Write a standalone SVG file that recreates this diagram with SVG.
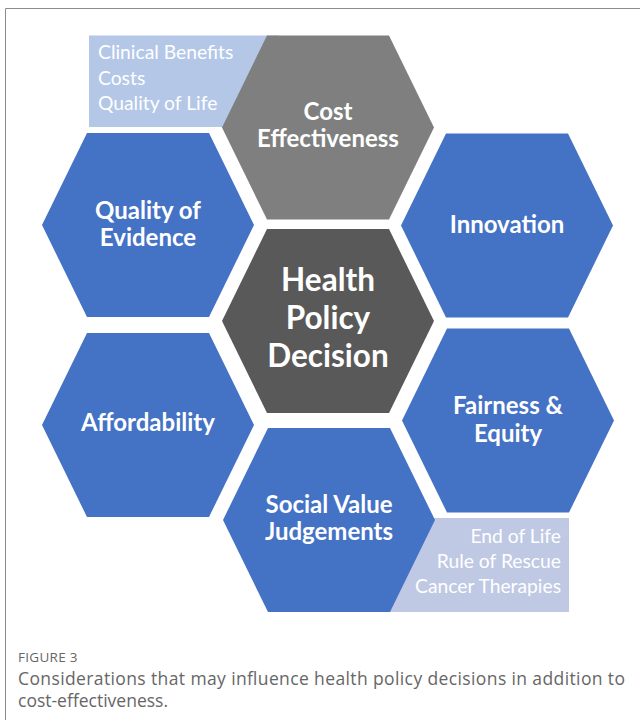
<svg xmlns="http://www.w3.org/2000/svg" width="640" height="720" viewBox="0 0 640 720">
  <style>
    .hex-blue { fill: #4472C4; }
    .hex-gray { fill: #7F7F7F; }
    .hex-dark { fill: #595959; }
    .label { font-family: Lato, "Liberation Sans", sans-serif; font-weight: bold; fill: #FFFFFF; text-anchor: middle; font-size: 24px; }
    .center-label { font-size: 31.5px; }
    .note { font-family: Lato, "Liberation Sans", sans-serif; fill: #FFFFFF; font-size: 19.3px; }
    .fig-tag { font-family: "Open Sans", "Liberation Sans", sans-serif; fill: #666666; font-size: 13.5px; }
    .caption { font-family: "Open Sans", "Liberation Sans", sans-serif; fill: #666666; font-size: 17.5px; }
  </style>
  <defs>
    <!-- flat-topped, slightly widened hexagon centred on the origin -->
    <polygon id="hex" points="-61,-92 61,-92 106,0 61,92 -61,92 -106,0"/>
  </defs>

  <rect width="640" height="720" fill="#FFFFFF"/>
  <!-- figure frame (open on the right and bottom) -->
  <path d="M640,8.5 H5.5 V720" fill="none" stroke="#8C8C8C" stroke-width="1"/>

  <!-- side notes sit behind the hexagons -->
  <g id="note-cost">
    <rect x="89" y="35.5" width="190" height="91.5" fill="#B4C7E7"/>
    <text class="note" x="98" y="59">Clinical Benefits</text>
    <text class="note" x="98" y="85">Costs</text>
    <text class="note" x="98" y="110">Quality of Life</text>
  </g>
  <g id="note-social">
    <rect x="380" y="518" width="189" height="94" fill="#BFC9E4"/>
    <text class="note" x="561" y="543" text-anchor="end">End of Life</text>
    <text class="note" x="561" y="568" text-anchor="end">Rule of Rescue</text>
    <text class="note" x="561" y="593" text-anchor="end">Cancer Therapies</text>
  </g>

  <g id="cost-effectiveness">
    <use href="#hex" x="328" y="127.5" class="hex-gray"/>
    <text class="label" x="328" y="120">Cost</text>
    <text class="label" x="328" y="147">Effectiveness</text>
  </g>
  <g id="quality-of-evidence">
    <use href="#hex" x="148" y="225" class="hex-blue"/>
    <text class="label" x="148" y="219">Quality of</text>
    <text class="label" x="148" y="246">Evidence</text>
  </g>
  <g id="innovation">
    <use href="#hex" x="507" y="225.5" class="hex-blue"/>
    <text class="label" x="507" y="233">Innovation</text>
  </g>
  <g id="health-policy-decision">
    <use href="#hex" x="328" y="321" class="hex-dark"/>
    <text class="label center-label" x="328" y="291">Health</text>
    <text class="label center-label" x="328" y="329">Policy</text>
    <text class="label center-label" x="328" y="367">Decision</text>
  </g>
  <g id="affordability">
    <use href="#hex" x="148" y="425" class="hex-blue"/>
    <text class="label" x="148" y="431">Affordability</text>
  </g>
  <g id="fairness-equity">
    <use href="#hex" x="508" y="420.5" class="hex-blue"/>
    <text class="label" x="508" y="414">Fairness &amp;</text>
    <text class="label" x="508" y="442">Equity</text>
  </g>
  <g id="social-value-judgements">
    <use href="#hex" x="329" y="520" class="hex-blue"/>
    <text class="label" x="329" y="513">Social Value</text>
    <text class="label" x="329" y="540">Judgements</text>
  </g>

  <g id="caption">
    <text class="fig-tag" x="18" y="662" letter-spacing="0.3">FIGURE 3</text>
    <text class="caption" x="18" y="685" textLength="607" lengthAdjust="spacing">Considerations that may influence health policy decisions in addition to</text>
    <text class="caption" x="18" y="707">cost-effectiveness.</text>
  </g>
</svg>
